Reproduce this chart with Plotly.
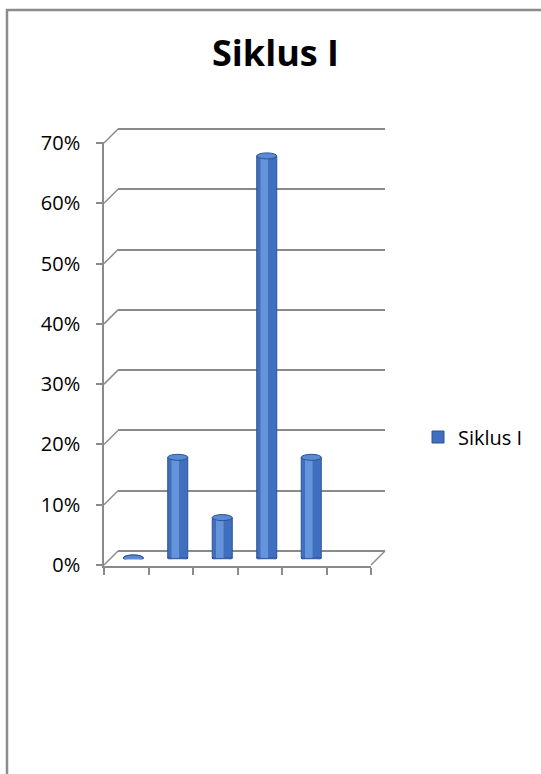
import plotly.graph_objects as go

# ---- data ----
categories = ["1", "2", "3", "4", "5", "6"]
siklus_i = [0.0, 0.167, 0.067, 0.667, 0.167, None]
series_name = "Siklus I"
title_text = "Siklus I"
y_ticks = [0.0, 0.1, 0.2, 0.3, 0.4, 0.5, 0.6, 0.7]

# ---- page geometry (pixels) ----
W, H = 541, 774
FRONT_L, FRONT_R = 104, 371
FRONT_BOT, FRONT_TOP = 565, 143
DEPTH = 14            # offset of the back wall (right / up)
MID = DEPTH / 2       # plane in which the columns stand
Y_MAX = 0.7
PAD = 0.002           # keeps the 0% and 70% gridlines inside the range

FONT = "Open Sans"
GRID = "#8a8a8a"
BAR = "#3f6fbe"
BAR_EDGE = "#2c5494"
BAR_LIGHT = "#6c9be0"
CAP = "#5a8ad6"


def px_x(p):
    return p / W


def px_y(p):
    return 1 - p / H


def x_dom(shift):
    return [px_x(FRONT_L + shift), px_x(FRONT_R + shift)]


def y_dom(shift):
    # domain is widened by the padding so that 0 and Y_MAX stay on their pixel rows
    span = FRONT_BOT - FRONT_TOP
    pad_px = span * PAD / Y_MAX
    return [px_y(FRONT_BOT - shift + pad_px), px_y(FRONT_TOP - shift - pad_px)]


def val_to_paper_y(v, shift):
    return px_y(FRONT_BOT - shift - (FRONT_BOT - FRONT_TOP) * v / Y_MAX)


Y_RANGE = [-PAD, Y_MAX + PAD]

fig = go.Figure()

# placeholder traces so that the front and back planes are drawn
fig.add_trace(go.Scatter(x=categories, y=[None] * len(categories), xaxis="x", yaxis="y",
                         showlegend=False, hoverinfo="skip"))
fig.add_trace(go.Scatter(x=categories, y=[None] * len(categories), xaxis="x2", yaxis="y2",
                         showlegend=False, hoverinfo="skip"))

# columns
BAR_W = 0.45
fig.add_trace(go.Bar(
    x=categories, y=siklus_i, name=series_name, xaxis="x3", yaxis="y3",
    width=BAR_W, marker=dict(color=BAR, line=dict(color=BAR_EDGE, width=1)),
))
# light stripe giving the cylinder its rounded look
fig.add_trace(go.Bar(
    x=categories, y=siklus_i, xaxis="x3", yaxis="y3", showlegend=False, hoverinfo="skip",
    width=0.17, offset=-0.14, marker=dict(color=BAR_LIGHT, line=dict(width=0), opacity=0.85),
))

shapes = []

# cylinder caps (bottom and top ellipses)
cap_h = 3 / (FRONT_BOT - FRONT_TOP) * Y_MAX
for i, v in enumerate(siklus_i):
    if v is None:
        continue
    shapes.append(dict(type="circle", xref="x3", yref="y3", layer="between",
                       x0=i - BAR_W / 2, x1=i + BAR_W / 2, y0=-cap_h, y1=cap_h,
                       fillcolor=BAR, line=dict(color=BAR_EDGE, width=1)))
    shapes.append(dict(type="circle", xref="x3", yref="y3", layer="above",
                       x0=i - BAR_W / 2, x1=i + BAR_W / 2, y0=v - cap_h, y1=v + cap_h,
                       fillcolor=CAP, line=dict(color=BAR_EDGE, width=1)))

# side-wall connectors from the front axis to the back-wall gridlines
for t in y_ticks:
    shapes.append(dict(type="line", xref="paper", yref="paper", layer="below",
                       x0=px_x(FRONT_L), y0=val_to_paper_y(t, 0),
                       x1=px_x(FRONT_L + DEPTH), y1=val_to_paper_y(t, DEPTH),
                       line=dict(color=GRID, width=1.5)))
# right edge of the floor
shapes.append(dict(type="line", xref="paper", yref="paper", layer="below",
                   x0=px_x(FRONT_R), y0=val_to_paper_y(0, 0),
                   x1=px_x(FRONT_R + DEPTH), y1=val_to_paper_y(0, DEPTH),
                   line=dict(color=GRID, width=1.5)))

# outer chart frame
shapes.append(dict(type="rect", xref="paper", yref="paper", layer="below",
                   x0=px_x(7), y0=px_y(H + 20), x1=px_x(W + 20), y1=px_y(10),
                   line=dict(color="#8c8c8c", width=2.5), fillcolor="rgba(0,0,0,0)"))

hidden = dict(showgrid=False, zeroline=False, showticklabels=False, ticks="",
              showline=False, automargin=False)

fig.update_layout(
    template="none",
    width=W, height=H,
    margin=dict(l=0, r=0, t=0, b=0, pad=0),
    paper_bgcolor="white", plot_bgcolor="rgba(0,0,0,0)",
    barmode="overlay",
    font=dict(family=FONT, color="#000000"),
    title=dict(text="<b>%s</b>" % title_text, x=275.5 / W, xanchor="center",
               y=px_y(53), yanchor="middle", font=dict(size=36, family=FONT, color="#000000")),
    # front plane: value axis with labels, category axis with boundary ticks
    xaxis=dict(domain=x_dom(0), anchor="y", type="category", range=[-0.5, 5.5],
               automargin=False, showgrid=False, zeroline=False, showticklabels=False,
               showline=True, linecolor=GRID, linewidth=1.5,
               ticks="outside", tickson="boundaries", ticklen=7, tickcolor=GRID, tickwidth=1.5),
    yaxis=dict(domain=y_dom(0), anchor="x", range=Y_RANGE, tickvals=y_ticks,
               automargin=False, tickformat=".0%", showgrid=False, zeroline=False,
               showline=True, linecolor=GRID, linewidth=1.5,
               ticks="outside", ticklen=6, tickcolor=GRID, tickwidth=1.5,
               ticklabelstandoff=12, tickfont=dict(size=20, family=FONT, color="#000000")),
    # back wall carrying the gridlines
    xaxis2=dict(domain=x_dom(DEPTH), anchor="y2", type="category", range=[-0.5, 5.5], **hidden),
    yaxis2=dict(domain=y_dom(DEPTH), anchor="x2", range=Y_RANGE, tickvals=y_ticks,
                showgrid=True, gridcolor=GRID, gridwidth=1.5, automargin=False,
                zeroline=False, showticklabels=False, ticks="", showline=False),
    # mid-depth plane holding the columns
    xaxis3=dict(domain=x_dom(MID), anchor="y3", type="category", range=[-0.5, 5.5], **hidden),
    yaxis3=dict(domain=y_dom(MID), anchor="x3", range=Y_RANGE, **hidden),
    legend=dict(x=px_x(418), xanchor="left", y=px_y(437), yanchor="middle",
                bgcolor="rgba(0,0,0,0)", font=dict(size=20, family=FONT, color="#000000"),
                itemwidth=30),
    shapes=shapes,
)

fig.write_html("out.html")
